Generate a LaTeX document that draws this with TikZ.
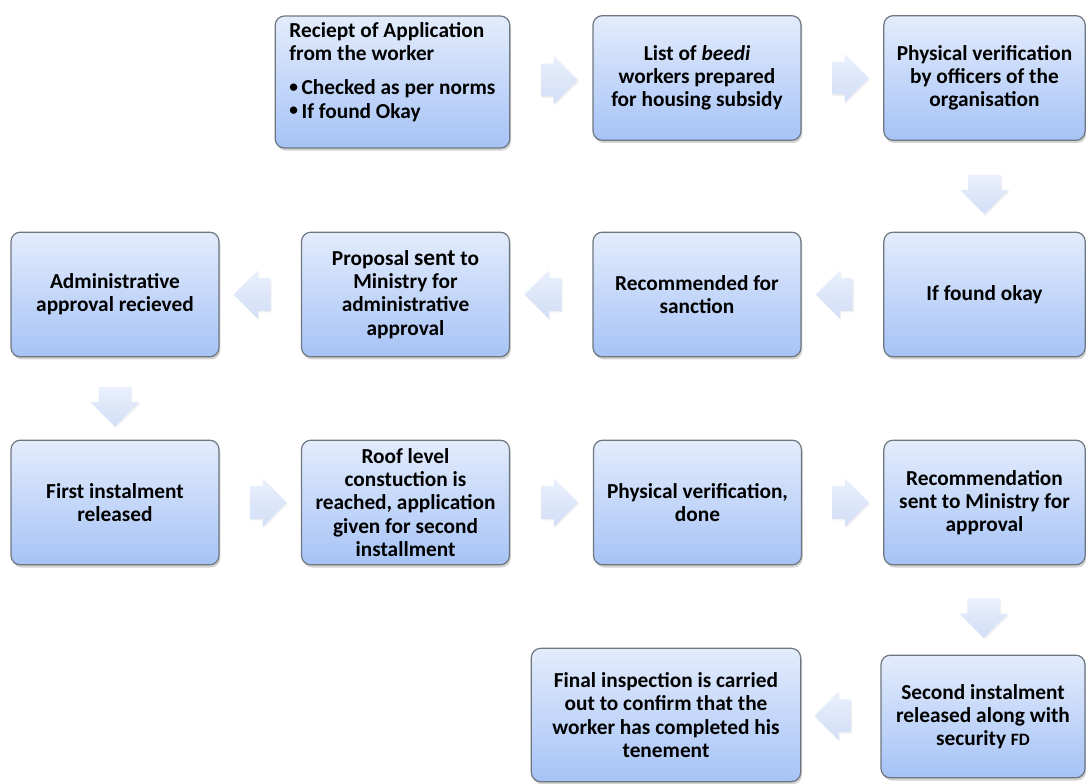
\documentclass[tikz,border=0pt]{standalone}
\usepackage{fontspec}
\setmainfont{Carlito}
\usetikzlibrary{calc, shapes, shadows}
\usepackage{xcolor}
\definecolor{boxtop}{HTML}{E3ECFC}
\definecolor{boxbot}{HTML}{A6C3F6}
\definecolor{boxline}{HTML}{6E7680}
\definecolor{arrtop}{HTML}{EAF0FC}
\definecolor{arrbot}{HTML}{D2DEF7}
\newcommand{\bul}{\raisebox{0.2ex}{\fontsize{13}{13}\selectfont•}\,}

\begin{document}
\begin{tikzpicture}[x=0.75pt,y=-0.75pt,
		box/.style={draw=boxline, line width=0.9pt, rounded corners=7pt,
			top color=boxtop, bottom color=boxbot,
			drop shadow={shadow xshift=1pt, shadow yshift=-2pt, opacity=0.35},
			minimum width=156pt, minimum height=93.5pt, inner sep=2pt,
			align=center, font=\bfseries\fontsize{16}{17.4}\selectfont},
		blockarr/.style={single arrow, draw=none, top color=arrtop, bottom color=arrbot,
			drop shadow={shadow xshift=0.8pt, shadow yshift=-1.2pt, opacity=0.12},
			single arrow head extend=6pt, inner xsep=7.5pt, inner ysep=12pt},
		downarr/.style={blockarr, shape border rotate=270, inner xsep=12pt, inner ysep=8.5pt},
		leftarr/.style={blockarr, shape border rotate=180}]
		\useasboundingbox (0,0) rectangle (1086,784);
		% row 1
		\node[box, minimum width=176pt, minimum height=99pt, align=left] (receipt) at (392.5,82)
		{Reciept of Application\\from the worker\\[8pt]\bul Checked as per norms\\\bul If found Okay\\ \mbox{}};
		\node[box] (list) at (697,78) {List of \textit{beedi}\\workers prepared\\for housing subsidy};
		\node[box, minimum width=151pt] (physver) at (984.5,78) {Physical verification\\by officers of the\\organisation};
		% row 2
		\node[box, minimum width=151pt] (foundok) at (984.5,294.5) {If found okay};
		\node[box] (recom) at (697,294.5) {Recommended for\\sanction};
		\node[box] (proposal) at (405.5,294.5) {Proposal {\fontsize{17.5}{17.4}\selectfont sent} to\\Ministry for\\administrative\\approval};
		\node[box] (adminok) at (115,294.5) {Administrative\\approval recieved};
		% row 3
		\node[box] (first) at (115,502.5) {First instalment\\released};
		\node[box] (roof) at (405.5,502.5) {Roof level\\constuction is\\reached, application\\given for second\\installment};
		\node[box] (physdone) at (697.5,502.5) {Physical verification,\\done};
		\node[box, minimum width=151pt] (recsent) at (984.5,502.5) {Recommendation\\sent to Ministry for\\approval};
		% row 4
		\node[box, minimum width=153pt, minimum height=92pt] (second) at (983,716.5) {Second instalment\\released along with\\security {\fontsize{13}{17.4}\selectfont FD}};
		\node[box, minimum width=202pt, minimum height=100pt] (final) at (666,715) {Final inspection is carried\\out to confirm that the\\worker has completed his\\tenement};
		% arrows
		\node[blockarr] (a1) at ($(receipt.east)!0.5!(list.west)$) {};
		\node[blockarr] (a2) at ($(list.east)!0.5!(physver.west)$) {};
		\node[downarr] (a3) at ($(physver.south)!0.5!(foundok.north)$) {};
		\node[leftarr] (a4) at ($(foundok.west)!0.5!(recom.east)$) {};
		\node[leftarr] (a5) at ($(recom.west)!0.5!(proposal.east)$) {};
		\node[leftarr] (a6) at ($(proposal.west)!0.5!(adminok.east)$) {};
		\node[downarr] (a7) at ($(adminok.south)!0.5!(first.north)$) {};
		\node[blockarr] (a8) at ($(first.east)!0.5!(roof.west)$) {};
		\node[blockarr] (a9) at ($(roof.east)!0.5!(physdone.west)$) {};
		\node[blockarr] (a10) at ($(physdone.east)!0.5!(recsent.west)$) {};
		\node[downarr] (a11) at ($(recsent.south)!0.5!(second.north)$) {};
		\node[leftarr] (a12) at ($(second.west)!0.5!(final.east)$) {};
	\end{tikzpicture}
\end{document}
